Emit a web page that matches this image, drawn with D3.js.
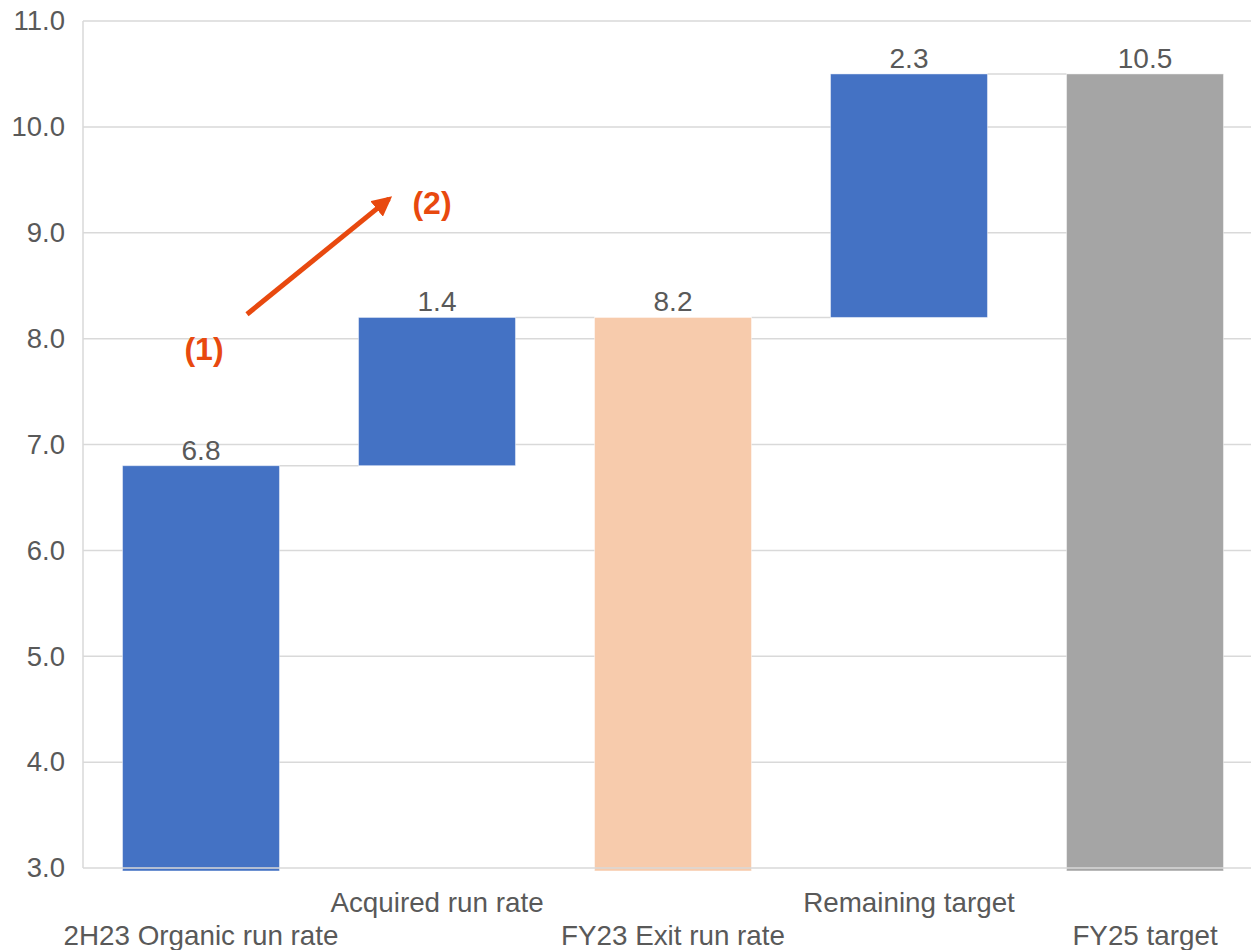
<!DOCTYPE html>
<html>
<head>
<meta charset="utf-8">
<script src="https://cdn.jsdelivr.net/npm/d3@7"></script>
<style>
  html, body { margin: 0; padding: 0; background: #fff; }
  svg { display: block; }
  text { font-family: "Liberation Sans", Arial, sans-serif; }
</style>
</head>
<body>
<svg id="chart" width="1251" height="950"></svg>
<script>
// Run-rate bridge: organic + acquired -> exit rate, then remaining -> target
const categories = ["2H23 Organic run rate", "Acquired run rate", "FY23 Exit run rate", "Remaining target", "FY25 target"];
const values = [6.8, 1.4, 8.2, 2.3, 10.5];
const stepKinds = ["total", "delta", "total", "delta", "total"];
const barColors = ["#4472C4", "#4472C4", "#F7CBAC", "#4472C4", "#A5A5A5"];
const yTicks = [3, 4, 5, 6, 7, 8, 9, 10, 11];
const yDomain = [3, 11];

// Annotation markers drawn in data units
const noteLabels = [
  { text: "(1)", band: 0, dx: 3, v: 7.9 },
  { text: "(2)", band: 1, dx: -5, v: 9.28 }
];
const noteArrow = { band: 0, fromDx: 46, fromV: 8.23, toBand: 1, toDx: -48, toV: 9.32 };

const svg = d3.select("#chart");
const plot = { left: 83, right: 1263, top: 21, bottom: 868, edge: 1251 };

const x = d3.scaleBand().domain(categories).range([plot.left, plot.right])
  .paddingInner(0.335).paddingOuter(0.1675);
const y = d3.scaleLinear().domain(yDomain).range([plot.bottom, plot.top]);

// Build waterfall segments
let running = 0;
const bars = categories.map((c, i) => {
  let start, end;
  if (stepKinds[i] === "total") { start = yDomain[0]; end = values[i]; running = values[i]; }
  else { start = running; end = running + values[i]; running = end; }
  return { c, i, start, end, value: values[i], kind: stepKinds[i], color: barColors[i] };
});

const gridColor = "#D9D9D9";
const textColor = "#595959";

// Horizontal gridlines
svg.append("g").selectAll("line").data(yTicks.filter(t => t !== yDomain[0])).join("line")
  .attr("x1", plot.left).attr("x2", plot.edge)
  .attr("y1", d => y(d)).attr("y2", d => y(d))
  .attr("stroke", gridColor).attr("stroke-width", 1.5);

// Vertical axis line
svg.append("line").attr("x1", plot.left).attr("x2", plot.left)
  .attr("y1", y(yDomain[1])).attr("y2", y(yDomain[0]))
  .attr("stroke", gridColor).attr("stroke-width", 1.5);

// Y tick labels
const yAxis = d3.axisLeft(y).tickValues(yTicks).tickFormat(d3.format(".1f")).tickSize(0).tickPadding(18);
const gy = svg.append("g").attr("transform", `translate(${plot.left},0)`).call(yAxis);
gy.select(".domain").remove();
gy.selectAll("text").attr("font-size", 27.5).attr("fill", textColor)
  .style("font-family", "'Liberation Sans', Arial, sans-serif");

// Connectors between consecutive bars at the running total
const connectors = bars.slice(0, -1).map((b, i) => ({
  x1: x(b.c) + x.bandwidth(), x2: x(categories[i + 1]), v: b.end
}));
svg.append("g").selectAll("line").data(connectors).join("line")
  .attr("x1", d => d.x1).attr("x2", d => d.x2)
  .attr("y1", d => y(d.v)).attr("y2", d => y(d.v))
  .attr("stroke", gridColor).attr("stroke-width", 1.5);

// Bars (totals run slightly past the baseline)
svg.append("g").selectAll("rect").data(bars).join("rect")
  .attr("x", d => x(d.c))
  .attr("width", x.bandwidth())
  .attr("y", d => y(Math.max(d.start, d.end)))
  .attr("height", d => Math.abs(y(d.start) - y(d.end)) + (d.kind === "total" ? 3 : 0))
  .attr("fill", d => d.color)
  .attr("stroke", "#ffffff").attr("stroke-opacity", 0.45).attr("stroke-width", 1);

// Baseline drawn over bars
svg.append("line").attr("x1", plot.left).attr("x2", plot.edge)
  .attr("y1", y(yDomain[0])).attr("y2", y(yDomain[0]))
  .attr("stroke", gridColor).attr("stroke-width", 1.5);

// Value labels
svg.append("g").selectAll("text").data(bars).join("text")
  .attr("x", d => x(d.c) + x.bandwidth() / 2)
  .attr("y", d => y(Math.max(d.start, d.end)) - 6)
  .attr("text-anchor", "middle")
  .attr("font-size", 28).attr("fill", textColor)
  .text(d => d3.format(".1f")(d.value));

// Category labels, staggered on two rows
svg.append("g").selectAll("text").data(categories).join("text")
  .attr("x", d => x(d) + x.bandwidth() / 2)
  .attr("y", (d, i) => i % 2 === 0 ? 945 : 912)
  .attr("text-anchor", "middle")
  .attr("font-size", 27.8).attr("fill", textColor)
  .text(d => d);

// Annotation arrow and markers
const accent = "#E8490F";
svg.append("defs").append("marker")
  .attr("id", "arrowHead").attr("viewBox", "0 0 10 10")
  .attr("refX", 8).attr("refY", 5)
  .attr("markerWidth", 4).attr("markerHeight", 4)
  .attr("markerUnits", "strokeWidth")
  .attr("orient", "auto")
  .append("path").attr("d", "M0,0 L10,5 L0,10 z").attr("fill", accent);

const bx = i => x(categories[i]) + x.bandwidth() / 2;
svg.append("line")
  .attr("x1", bx(noteArrow.band) + noteArrow.fromDx).attr("y1", y(noteArrow.fromV))
  .attr("x2", bx(noteArrow.toBand) + noteArrow.toDx).attr("y2", y(noteArrow.toV))
  .attr("stroke", accent).attr("stroke-width", 5)
  .attr("marker-end", "url(#arrowHead)");

svg.append("g").selectAll("text").data(noteLabels).join("text")
  .attr("x", d => bx(d.band) + d.dx)
  .attr("y", d => y(d.v))
  .attr("dy", "0.35em")
  .attr("text-anchor", "middle")
  .attr("font-size", 32).attr("font-weight", "bold").attr("fill", accent)
  .text(d => d.text);
</script>
</body>
</html>
